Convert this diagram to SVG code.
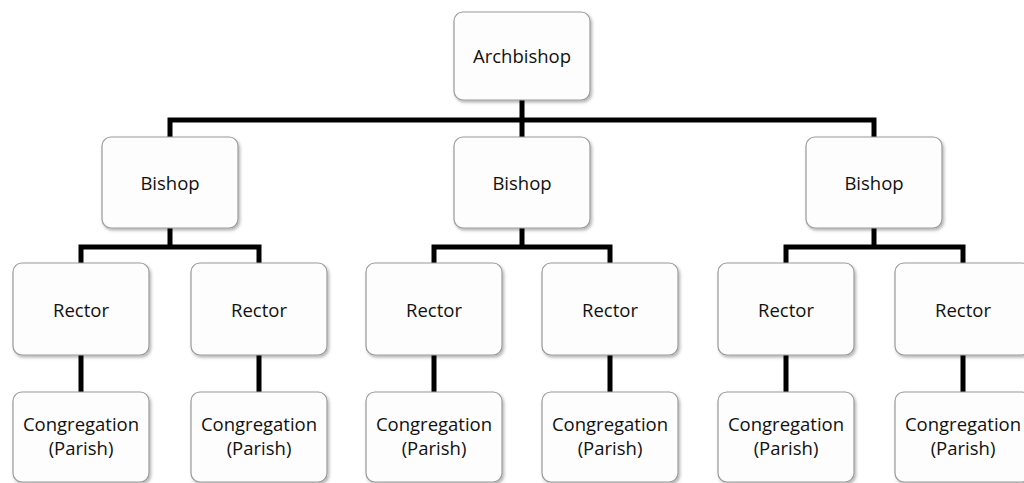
<svg xmlns="http://www.w3.org/2000/svg" width="1024" height="483" viewBox="0 0 1024 483">
<style>
.box{fill:#fdfdfd;stroke:#9a9a9a;stroke-width:1.2;filter:url(#sh)}
.t{font-family:"Open Sans","Liberation Sans",sans-serif;font-size:18.5px;fill:#111;text-anchor:middle}
.c{fill:none;stroke:#000;stroke-width:5;stroke-linejoin:miter;stroke-linecap:square}
</style>
<defs>
<filter id="sh" x="-10%" y="-10%" width="130%" height="130%">
<feDropShadow dx="1.5" dy="2" stdDeviation="1.8" flood-color="#000" flood-opacity="0.3"/>
</filter>
</defs>
<rect width="1024" height="483" fill="#fff"/>
<g id="connectors">
<path class="c" d="M522,100 V120 M170,137 V120 H874 V137 M522,120 V137"/>
<path class="c" d="M170,228 V247 M81,263 V247 H259 V263"/>
<path class="c" d="M522,228 V247 M434,263 V247 H610 V263"/>
<path class="c" d="M874,228 V247 M786,263 V247 H963 V263"/>
<path class="c" d="M81,355 V392 M259,355 V392 M434,355 V392 M610,355 V392 M786,355 V392 M963,355 V392"/>
</g>
<g id="archbishop"><rect class="box" x="454" y="12" width="136" height="88" rx="9"/><text class="t" x="522" y="63">Archbishop</text></g>
<g id="bishop1"><rect class="box" x="102" y="137" width="136" height="91" rx="9"/><text class="t" x="170" y="190">Bishop</text></g>
<g id="bishop2"><rect class="box" x="454" y="137" width="136" height="91" rx="9"/><text class="t" x="522" y="190">Bishop</text></g>
<g id="bishop3"><rect class="box" x="806" y="137" width="136" height="91" rx="9"/><text class="t" x="874" y="190">Bishop</text></g>
<g id="rector1"><rect class="box" x="13" y="263" width="136" height="92" rx="9"/><text class="t" x="81" y="317">Rector</text></g>
<g id="rector2"><rect class="box" x="191" y="263" width="136" height="92" rx="9"/><text class="t" x="259" y="317">Rector</text></g>
<g id="rector3"><rect class="box" x="366" y="263" width="136" height="92" rx="9"/><text class="t" x="434" y="317">Rector</text></g>
<g id="rector4"><rect class="box" x="542" y="263" width="136" height="92" rx="9"/><text class="t" x="610" y="317">Rector</text></g>
<g id="rector5"><rect class="box" x="718" y="263" width="136" height="92" rx="9"/><text class="t" x="786" y="317">Rector</text></g>
<g id="rector6"><rect class="box" x="895" y="263" width="136" height="92" rx="9"/><text class="t" x="963" y="317">Rector</text></g>
<g id="cong1"><rect class="box" x="13" y="392" width="136" height="90" rx="9"/><text class="t" x="81" y="431">Congregation</text><text class="t" x="81" y="455">(Parish)</text></g>
<g id="cong2"><rect class="box" x="191" y="392" width="136" height="90" rx="9"/><text class="t" x="259" y="431">Congregation</text><text class="t" x="259" y="455">(Parish)</text></g>
<g id="cong3"><rect class="box" x="366" y="392" width="136" height="90" rx="9"/><text class="t" x="434" y="431">Congregation</text><text class="t" x="434" y="455">(Parish)</text></g>
<g id="cong4"><rect class="box" x="542" y="392" width="136" height="90" rx="9"/><text class="t" x="610" y="431">Congregation</text><text class="t" x="610" y="455">(Parish)</text></g>
<g id="cong5"><rect class="box" x="718" y="392" width="136" height="90" rx="9"/><text class="t" x="786" y="431">Congregation</text><text class="t" x="786" y="455">(Parish)</text></g>
<g id="cong6"><rect class="box" x="895" y="392" width="136" height="90" rx="9"/><text class="t" x="963" y="431">Congregation</text><text class="t" x="963" y="455">(Parish)</text></g>
</svg>
